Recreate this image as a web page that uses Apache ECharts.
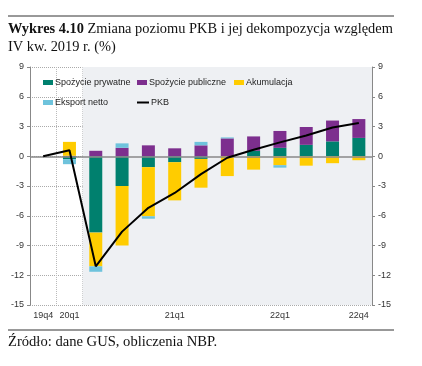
<!DOCTYPE html>
<html><head><meta charset="utf-8">
<script src="https://cdn.jsdelivr.net/npm/echarts@6/dist/echarts.min.js"></script>
<style>html,body{margin:0;padding:0;background:#fff}#c{width:422px;height:366px}</style>
</head><body><div id="c"></div>
<script>
const categories = ['19q4','20q1','20q2','20q3','20q4','21q1','21q2','21q3','21q4','22q1','22q2','22q3','22q4'];
const shownLabels = ['19q4','20q1','21q1','22q1','22q4'];
const privateCons = [0, -0.3, -7.7, -3.0, -1.1, -0.6, -0.27, 0, 0.55, 0.85, 1.15, 1.5, 1.85];
const publicCons = [0, 0.05, 0.55, 0.85, 1.1, 0.8, 1.1, 1.8, 1.45, 1.7, 1.8, 2.1, 1.9];
const accumulation = [0, 1.4, -3.4, -6.0, -4.95, -3.85, -2.9, -2.0, -1.35, -0.9, -0.95, -0.7, -0.4];
const netExports = [0, -0.5, -0.55, 0.45, -0.25, 0, 0.35, 0.1, 0, -0.25, 0, 0, 0];
const gdp = [0, 0.6, -11.1, -7.6, -5.2, -3.7, -1.8, -0.15, 0.65, 1.4, 2.1, 2.9, 3.35];
const yTicks = {min: -15, max: 9, interval: 3};

const names = ['Spożycie prywatne','Spożycie publiczne','Akumulacja','Eksport netto','PKB'];
const colors = ['#00806e','#7d2f8e','#ffcc00','#6ec3dc','#000000'];

const chart = echarts.init(document.getElementById('c'), null, {renderer:'canvas'});
const fontSans = 'Liberation Sans, Arial, sans-serif';
const fontSerif = 'Liberation Serif, Times New Roman, serif';
const legendPos = [[43,78],[137,78],[234,78],[43,98],[137,98]];
const legends = names.map((n,i)=>({
  data:[{name:n, icon:'rect', itemStyle: i===4 ? {color:'#000'} : undefined}],
  left: legendPos[i][0], top: legendPos[i][1],
  itemWidth: i===4 ? 12 : 10, itemHeight: i===4 ? 2 : 5,
  itemGap: 0, padding: 0, selectedMode:false,
  textStyle:{fontFamily: fontSans, fontSize: 9, color:'#222', padding:[0,0,0,-3]}
}));
const barSeries = [privateCons, publicCons, accumulation, netExports].map((d,i)=>({
  name: names[i], type:'bar', stack:'s', data:d, barWidth: 13, itemStyle:{color: colors[i]},
  emphasis:{disabled:true}
}));
barSeries[0].markArea = {silent:true, itemStyle:{color:'#eef0f3'}, data:[[{xAxis:'20q2'},{xAxis:'22q4'}]]};
barSeries[0].markLine = {silent:true, symbol:'none', label:{show:false}, lineStyle:{color:'#888', type:'solid', width:1.5}, data:[{yAxis:0}]};
const yAxisBase = {type:'value', min: yTicks.min, max: yTicks.max, interval: yTicks.interval,
  axisLine:{show:true, lineStyle:{color:'#888', width:1}},
  axisTick:{show:true, length:3, lineStyle:{color:'#888'}},
  axisLabel:{fontFamily: fontSans, fontSize: 9, color:'#333', margin:6}};
chart.setOption({
  animation:false,
  grid:{left:30, right:50, top:67, bottom:61},
  legend: legends,
  xAxis:{type:'category', data: categories,
    axisLine:{show:false}, axisTick:{show:false},
    splitLine:{show:true, lineStyle:{color:'#bbb', type:'dotted'}},
    axisLabel:{fontFamily: fontSans, fontSize: 9, color:'#333', margin:6, interval:0,
      formatter: v => shownLabels.includes(v) ? v : ''}},
  yAxis:[Object.assign({position:'left', splitLine:{show:true, lineStyle:{color:'#aaa', type:'dotted'}}}, yAxisBase),
         Object.assign({position:'right', splitLine:{show:false}}, yAxisBase)],
  series: barSeries.concat([{name: names[4], type:'line', data: gdp, symbol:'none',
    lineStyle:{color:'#000', width:2}, itemStyle:{color:'#000'}, z:5}]),
  graphic:[
    {type:'line', shape:{x1:8, y1:16, x2:394, y2:16}, style:{stroke:'#333', lineWidth:1}},
    {type:'text', left:8, top:20, style:{text:'{b|Wykres 4.10} Zmiana poziomu PKB i jej dekompozycja względem\nIV kw. 2019 r. (%)',
      font:'14.4px '+fontSerif, fill:'#111', lineHeight:18,
      rich:{b:{fontWeight:'bold', fontFamily: fontSerif, fontSize:14.4, fill:'#111'}}}},
    {type:'line', shape:{x1:8, y1:330, x2:394, y2:330}, style:{stroke:'#333', lineWidth:1}},
    {type:'text', left:8, top:335, style:{text:'Źródło: dane GUS, obliczenia NBP.', font:'14.6px '+fontSerif, fill:'#111'}}
  ]
});
</script></body></html>
